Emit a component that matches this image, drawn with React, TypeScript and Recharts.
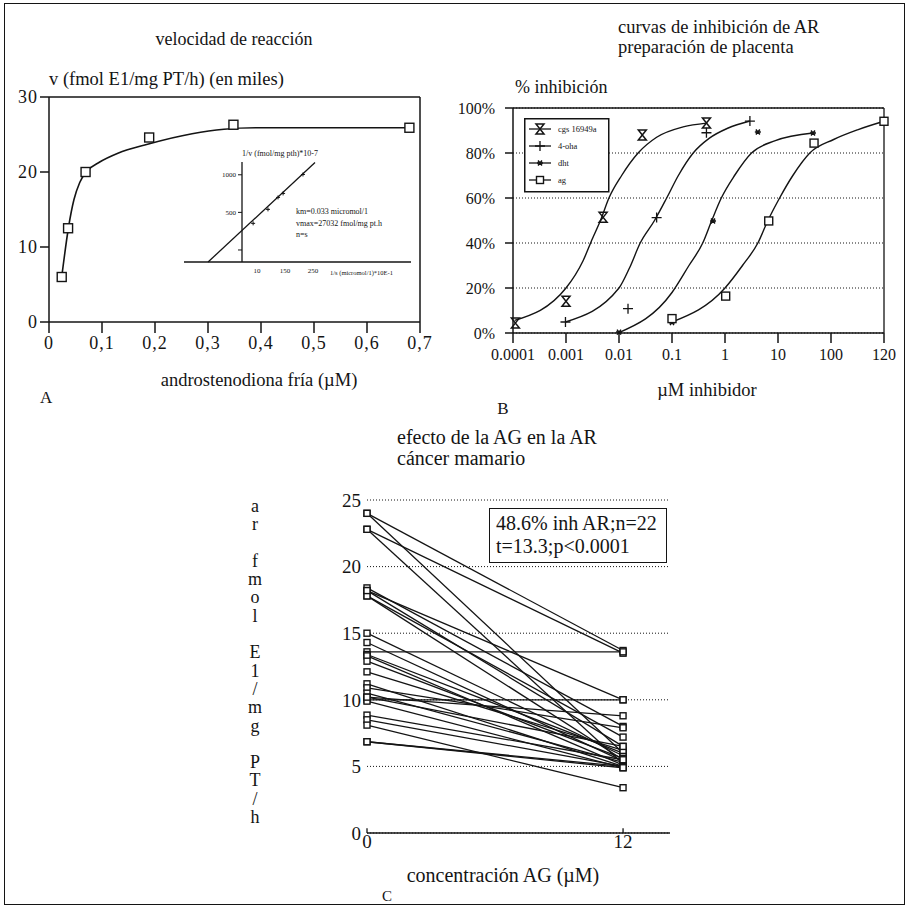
import { LineChart, Line, XAxis, YAxis, CartesianGrid, ReferenceLine } from 'recharts';

const FONT = '"Liberation Serif", "Times New Roman", serif';
const INK = '#141414';

// ---- panel A: velocidad de reacción ----
const aConc = [0.024, 0.036, 0.069, 0.189, 0.348, 0.68];
const aVel = [6.0, 12.5, 20.0, 24.6, 26.3, 25.9];
const aFitConc = [0.024, 0.037, 0.047, 0.058, 0.073, 0.095, 0.13, 0.186, 0.27, 0.33, 0.39, 0.5, 0.68];
const aFitVel = [6.0, 12.7, 16.3, 18.6, 20.2, 21.3, 22.5, 23.7, 25.1, 25.7, 25.9, 25.9, 25.9];
const aXTicks = [0, 0.1, 0.2, 0.3, 0.4, 0.5, 0.6, 0.7];
const aYTicks = [0, 10, 20, 30];

// inset (Lineweaver-Burk)
const insetInvS = [36, 89, 125, 143, 214];
const insetInvV = [354, 540, 699, 752, 1004];
const insetFitInvS = [-125, 257];
const insetFitInvV = [-160, 1163];
const insetXTicks = [50, 150, 250];
const insetXLabels = ['10', '150', '250'];
const insetYTicks = [0, 500, 1000];
const insetYLabels = ['', '500', '1000'];

// ---- panel B: curvas de inhibición (x = log10 µM) ----
const bNames = ['cgs 16949a', '4-oha', 'dht', 'ag'];
const bTickLabels = ['0.0001', '0.001', '0.01', '0.1', '1', '10', '100', '120'];
const bXTicks = [-4, -3, -2, -1, 0, 1, 2, 3];
const bYTicks = [0, 20, 40, 60, 80, 100];

const cgsX = [-3.955, -3.0, -2.3, -1.56, -0.35];
const cgsY = [4.4, 14.1, 51.4, 88, 93.3];
const cgsFitX = [-3.97, -3.0, -2.68, -2.5, -2.35, -2.19, -1.95, -1.64, -1.29, -0.79, -0.35];
const cgsFitY = [5.6, 20, 32, 42, 50, 60, 70, 80, 87, 91.6, 93.3];

const ohaX = [-3.01, -1.83, -1.29, -0.35, 0.47];
const ohaY = [4.9, 10.8, 51.3, 89, 94.2];
const ohaFitX = [-3.01, -2.0, -1.8, -1.6, -1.33, -1.1, -0.88, -0.6, -0.3, 0.05, 0.47];
const ohaFitY = [4.9, 20, 29, 40, 50, 60, 70, 80, 86.5, 91, 94.2];

const dhtX = [-2.0, -1.0, -0.226, 0.62, 1.66];
const dhtY = [0.4, 4.6, 49.8, 89.3, 88.9];
const dhtFitX = [-2.0, -1.0, -0.68, -0.42, -0.25, -0.07, 0.18, 0.5, 0.95, 1.66];
const dhtFitY = [0.2, 18, 30, 40, 50, 60, 70, 80, 85.5, 88.9];

const agX = [-1.0, 0.013, 0.825, 1.68, 3.0];
const agY = [6.4, 16.4, 49.8, 84.4, 94.1];
const agFitX = [-1.0, 0.0, 0.33, 0.62, 0.81, 1.03, 1.28, 1.6, 2.05, 2.5, 3.0];
const agFitY = [4.9, 20, 30, 40, 50, 60, 70, 80, 86, 90.3, 94.1];

// ---- panel C: efecto de la AG en la AR (0 µM -> 12 µM) ----
const cDoses = [0, 12];
const cBefore = [24.0, 24.0, 22.8, 22.8, 18.4, 18.2, 17.8, 17.8, 18.2, 15.0, 14.3, 13.6, 13.4, 13.3, 12.9, 12.1, 11.2, 10.9, 10.5, 10.2, 10.0, 9.9, 10.2, 8.85, 8.5, 8.1, 6.85, 6.85];
const cAfter = [13.7, 6.0, 13.5, 5.2, 8.0, 6.5, 7.2, 5.5, 10.0, 5.8, 5.4, 13.6, 6.0, 5.1, 5.6, 6.2, 5.0, 7.9, 5.3, 8.8, 10.0, 4.9, 6.5, 5.5, 5.0, 3.4, 5.0, 4.9];
const cYTicks = [0, 5, 10, 15, 20, 25];
const cYLabel = 'ar fmol E1/mg PT/h';

const zip = (xs: number[], ys: number[]) => xs.map((x, i) => ({ x, y: ys[i] }));

function T({ x, y, size = 18, anchor = 'start', children, style }: any) {
  const tx = anchor === 'middle' ? '-50%' : anchor === 'end' ? '-100%' : '0';
  return (
    <div
      style={{
        position: 'absolute',
        left: x,
        top: y,
        transform: `translate(${tx}, -50%)`,
        fontSize: size,
        lineHeight: 1,
        whiteSpace: 'nowrap',
        ...style,
      }}
    >
      {children}
    </div>
  );
}

const square = (size: number) => (p: any) => {
  const { cx, cy, index } = p;
  if (cx == null || cy == null) return <g key={`s${index}`} />;
  return (
    <rect key={`s${index}-${cx}-${cy}`} x={cx - size / 2} y={cy - size / 2} width={size} height={size}
      fill="#fff" stroke={INK} strokeWidth={1.4} />
  );
};

const hourglass = (p: any) => {
  const { cx, cy, index } = p;
  if (cx == null || cy == null) return <g key={`h${index}`} />;
  return (
    <path key={`h${index}`} d={`M${cx - 4},${cy - 5} H${cx + 4} L${cx - 4},${cy + 5} H${cx + 4} Z`}
      fill="none" stroke={INK} strokeWidth={1.5} />
  );
};

const plus = (p: any) => {
  const { cx, cy, index } = p;
  if (cx == null || cy == null) return <g key={`p${index}`} />;
  return (
    <path key={`p${index}`} d={`M${cx - 5},${cy} H${cx + 5} M${cx},${cy - 5} V${cy + 5}`}
      stroke={INK} strokeWidth={1.3} fill="none" />
  );
};

const star = (p: any) => {
  const { cx, cy, index } = p;
  if (cx == null || cy == null) return <g key={`a${index}`} />;
  return (
    <path key={`a${index}`}
      d={`M${cx - 3},${cy} H${cx + 3} M${cx - 2},${cy - 2.5} L${cx + 2},${cy + 2.5} M${cx + 2},${cy - 2.5} L${cx - 2},${cy + 2.5}`}
      stroke={INK} strokeWidth={1.5} fill="none" />
  );
};

const cross = (p: any) => {
  const { cx, cy, index } = p;
  if (cx == null || cy == null) return <g key={`c${index}`} />;
  return <path key={`c${index}`} d={`M${cx - 2},${cy} H${cx + 2} M${cx},${cy - 2} V${cy + 2}`} stroke={INK} strokeWidth={1} />;
};

const tickA = { fill: INK, fontSize: 18, fontFamily: FONT, letterSpacing: 1 };
const tickB = { fill: INK, fontSize: 16, fontFamily: FONT };
const tickC = { fill: INK, fontSize: 19, fontFamily: FONT };
const tickI = { fill: INK, fontSize: 7, fontFamily: FONT };

function PanelA() {
  return (
    <div style={{ position: 'absolute', left: 0, top: 0 }}>
      <LineChart width={460} height={420} margin={{ top: 97, right: 40, left: 9, bottom: 68 }}>
        <XAxis type="number" dataKey="x" domain={[0, 0.7]} ticks={aXTicks} tick={tickA}
          tickFormatter={(v) => String(v).replace('.', ',')}
          axisLine={{ stroke: INK, strokeWidth: 1.5 }} tickLine={{ stroke: INK, strokeWidth: 1.5 }}
          tickSize={11} tickMargin={3} height={30} />
        <YAxis type="number" domain={[0, 30]} ticks={aYTicks} tick={tickA} width={40}
          axisLine={{ stroke: INK, strokeWidth: 1.5 }} tickLine={{ stroke: INK, strokeWidth: 1.5 }}
          tickSize={9} tickMargin={2} />
        <ReferenceLine y={30} stroke={INK} strokeWidth={1.5} />
        <ReferenceLine x={0.7} stroke={INK} strokeWidth={1.5} />
        <Line data={zip(aFitConc, aFitVel)} dataKey="y" type="monotone" stroke={INK} strokeWidth={1.6}
          dot={false} activeDot={false} isAnimationActive={false} />
        <Line data={zip(aConc, aVel)} dataKey="y" stroke="none" dot={square(9)} activeDot={false}
          isAnimationActive={false} />
      </LineChart>
    </div>
  );
}

function InsetA() {
  const fit = zip(insetFitInvS, insetFitInvV);
  const pts = zip(insetInvS, insetInvV);
  const common = { top: 22, bottom: 4 };
  return (
    <>
      <div style={{ position: 'absolute', left: 170, top: 140 }}>
        <LineChart width={250} height={140} margin={{ ...common, left: 14, right: 9 }}>
          <XAxis type="number" dataKey="x" domain={[-211, 600]} ticks={insetXTicks} tick={tickI}
            tickFormatter={(v) => insetXLabels[insetXTicks.indexOf(v)]}
            axisLine={{ stroke: INK, strokeWidth: 1.3 }} tickLine={false} tickSize={4} tickMargin={2} height={14} />
          <YAxis type="number" domain={[-160, 1170]} hide />
          <Line data={fit} dataKey="y" type="linear" stroke={INK} strokeWidth={1.3} dot={false}
            activeDot={false} isAnimationActive={false} />
          <Line data={pts} dataKey="y" stroke="none" dot={cross} activeDot={false} isAnimationActive={false} />
        </LineChart>
      </div>
      <div style={{ position: 'absolute', left: 170, top: 140 }}>
        <LineChart width={250} height={140} margin={{ ...common, left: 42, right: 9 }}>
          <XAxis type="number" dataKey="x" domain={[0, 600]} tick={false} axisLine={false} tickLine={false} height={14} />
          <YAxis type="number" domain={[-160, 1170]} ticks={insetYTicks} tick={tickI} width={30}
            tickFormatter={(v) => insetYLabels[insetYTicks.indexOf(v)]}
            axisLine={{ stroke: INK, strokeWidth: 1.3 }} tickLine={{ stroke: INK }} tickSize={4} tickMargin={2} />
          <Line data={pts} dataKey="y" stroke="none" dot={false} activeDot={false} isAnimationActive={false} />
        </LineChart>
      </div>
    </>
  );
}

const bSeries = [
  { fitX: cgsFitX, fitY: cgsFitY, x: cgsX, y: cgsY, dot: hourglass },
  { fitX: ohaFitX, fitY: ohaFitY, x: ohaX, y: ohaY, dot: plus },
  { fitX: dhtFitX, fitY: dhtFitY, x: dhtX, y: dhtY, dot: star },
  { fitX: agFitX, fitY: agFitY, x: agX, y: agY, dot: square(8) },
];

function PanelB() {
  return (
    <div style={{ position: 'absolute', left: 450, top: 0 }}>
      <LineChart width={459} height={420} margin={{ top: 108, right: 25, left: 13, bottom: 57 }}>
        <CartesianGrid vertical={false} stroke={INK} strokeDasharray="1 2" />
        <XAxis type="number" dataKey="x" domain={[-4, 3]} ticks={bXTicks} tick={tickB}
          tickFormatter={(v) => bTickLabels[Math.round(v) + 4]}
          axisLine={{ stroke: INK, strokeWidth: 1.5 }} tickLine={{ stroke: INK, strokeWidth: 1.5 }}
          tickSize={10} tickMargin={6} height={30} />
        <YAxis type="number" domain={[0, 100]} ticks={bYTicks} tick={tickB} width={50}
          tickFormatter={(v) => `${v}%`}
          axisLine={{ stroke: INK, strokeWidth: 1.5 }} tickLine={{ stroke: INK, strokeWidth: 1.5 }}
          tickSize={8} tickMargin={10} />
        <ReferenceLine y={100} stroke={INK} strokeWidth={1.3} />
        <ReferenceLine x={3} stroke={INK} strokeWidth={1.3} />
        {bSeries.map((s, i) => (
          <Line key={`f${i}`} data={zip(s.fitX, s.fitY)} dataKey="y" type="monotone" stroke={INK}
            strokeWidth={1.4} dot={false} activeDot={false} isAnimationActive={false} />
        ))}
        {bSeries.map((s, i) => (
          <Line key={`p${i}`} data={zip(s.x, s.y)} dataKey="y" stroke="none" dot={s.dot}
            activeDot={false} isAnimationActive={false} />
        ))}
      </LineChart>
    </div>
  );
}

function LegendB() {
  const markers = [hourglass, plus, star, square(7)];
  return (
    <svg style={{ position: 'absolute', left: 524, top: 118 }} width={86} height={75}>
      <rect x={0.75} y={0.75} width={84} height={73} fill="#fff" stroke={INK} strokeWidth={1.5} />
      {bNames.map((n, i) => {
        const y = 11 + i * 17;
        return (
          <g key={n}>
            <line x1={5} x2={27} y1={y} y2={y} stroke={INK} strokeWidth={1.3} />
            {markers[i]({ cx: 16, cy: y, index: i })}
            <text x={34} y={y + 3} fontSize={8.5} fontFamily={FONT} fill={INK}>{n}</text>
          </g>
        );
      })}
    </svg>
  );
}

function PanelC() {
  return (
    <div style={{ position: 'absolute', left: 300, top: 440 }}>
      <LineChart width={400} height={440} margin={{ top: 60, right: 30, left: 27, bottom: 17 }}>
        <CartesianGrid vertical={false} stroke={INK} strokeDasharray="1 2" />
        <XAxis type="number" dataKey="x" domain={[0, 14.2]} ticks={cDoses} tick={tickC}
          axisLine={{ stroke: INK, strokeWidth: 1.5 }} tickLine={false} tickSize={0} tickMargin={2} height={30} />
        <YAxis type="number" domain={[0, 25]} ticks={cYTicks} tick={tickC} width={40}
          axisLine={false} tickLine={false} tickSize={0} tickMargin={6} />
        {cDoses.map((d) => (
          <ReferenceLine key={`t${d}`} segment={[{ x: d, y: 0 }, { x: d, y: 0.35 }]} stroke={INK} strokeWidth={1.3} />
        ))}
        {cBefore.map((b, i) => (
          <Line key={i} data={zip(cDoses, [b, cAfter[i]])} dataKey="y" type="linear" stroke={INK}
            strokeWidth={1.3} dot={square(6)} activeDot={false} isAnimationActive={false} />
        ))}
      </LineChart>
    </div>
  );
}

const insetText = { color: INK, WebkitFontSmoothing: 'antialiased' };

export default function App() {
  return (
    <div style={{ position: 'absolute', left: 0, top: 0, width: 909, height: 909, background: '#fff', fontFamily: FONT, color: INK, overflow: 'hidden' }}>
      <div style={{ position: 'absolute', left: 4, top: 3, width: 901, height: 902, border: `1.5px solid ${INK}`, boxSizing: 'border-box' }} />

      <PanelA />
      <InsetA />
      <T x={234} y={39} size={18} anchor="middle">velocidad de reacción</T>
      <T x={49} y={79} size={18.5}>v (fmol E1/mg PT/h) (en miles)</T>
      <T x={259} y={380} size={18.5} anchor="middle">androstenodiona fría (µM)</T>
      <T x={40} y={397} size={17}>A</T>
      <T x={242} y={154} size={8} style={insetText}>1/v (fmol/mg pth)*10-7</T>
      <T x={296} y={212} size={8} style={insetText}>km=0.033 micromol/1</T>
      <T x={296} y={224} size={8} style={insetText}>vmax=27032 fmol/mg pt.h</T>
      <T x={296} y={235} size={8} style={insetText}>n=s</T>
      <T x={330} y={273} size={6.5} style={insetText}>1/s (micromol/1)*10E-1</T>

      <PanelB />
      <LegendB />
      <T x={618} y={27} size={18.5}>curvas de inhibición de AR</T>
      <T x={618} y={47} size={18.5}>preparación de placenta</T>
      <T x={515} y={87} size={18}>% inhibición</T>
      <T x={707} y={390} size={18.5} anchor="middle">µM inhibidor</T>
      <T x={503} y={408} size={17} anchor="middle">B</T>

      <PanelC />
      <T x={397} y={437} size={20}>efecto de la AG en la AR</T>
      <T x={397} y={458} size={20}>cáncer mamario</T>
      <div style={{ position: 'absolute', left: 489, top: 508, width: 178, height: 55, border: `1.3px solid ${INK}`, background: '#fff', boxSizing: 'border-box', fontSize: 20, lineHeight: '23px', padding: '3px 0 0 6px', whiteSpace: 'nowrap' }}>
        48.6% inh AR;n=22<br />t=13.3;p&lt;0.0001
      </div>
      <div style={{ position: 'absolute', left: 244, top: 497, width: 22, textAlign: 'center', fontSize: 18, lineHeight: '18.3px' }}>
        {cYLabel.split('').map((ch, i) => (
          <div key={i}>{ch === ' ' ? '\u00a0' : ch}</div>
        ))}
      </div>
      <T x={503} y={875} size={20} anchor="middle">concentración AG (µM)</T>
      <T x={387} y={896} size={15} anchor="middle">C</T>
    </div>
  );
}
